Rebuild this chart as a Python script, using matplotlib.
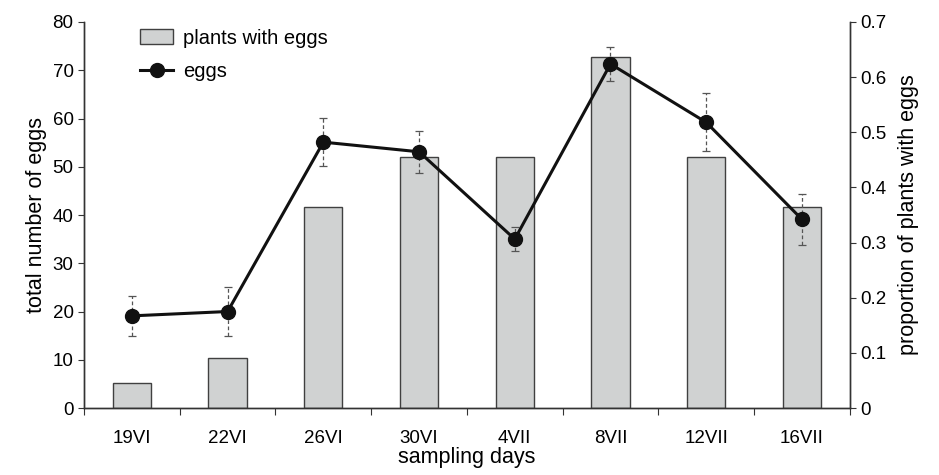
import matplotlib.pyplot as plt
import numpy as np

plt.rcParams['font.family'] = ['Liberation Sans', 'DejaVu Sans']

days = ['19VI', '22VI', '26VI', '30VI', '4VII', '8VII', '12VII', '16VII']
eggs = [19.1, 20.0, 55.1, 53.1, 35.0, 71.3, 59.2, 39.1]
eggs_err = [4.2, 5.0, 5.0, 4.3, 2.5, 3.5, 6.0, 5.3]
plants_prop = [0.045, 0.091, 0.364, 0.455, 0.455, 0.636, 0.455, 0.364]

x = np.arange(len(days))

fig = plt.figure(figsize=(9.39, 4.75), dpi=100)
ax = fig.add_axes([0.0895, 0.141, 0.8155, 0.8127])
ax2 = ax.twinx()

bars = ax2.bar(x, plants_prop, width=0.4, color='#d0d2d2', edgecolor='#404040',
               linewidth=1.0, label='plants with eggs')
ax2.set_ylim(0, 0.7)
ax2.set_yticks(np.arange(0, 0.71, 0.1))
ax2.set_yticklabels(['0'] + ['%.1f' % v for v in np.arange(0.1, 0.71, 0.1)])
ax2.set_ylabel('proportion of plants with eggs', fontsize=15.5, labelpad=8)

eb = ax.errorbar(x, eggs, yerr=eggs_err, fmt='none', ecolor='#555555',
                 elinewidth=0.9, capsize=3, capthick=0.9, zorder=3)
eb[2][0].set_linestyle((0, (3, 2)))
line, = ax.plot(x, eggs, color='#111111', lw=2.2, marker='o', markersize=10,
                label='eggs', zorder=4)

ax.set_zorder(ax2.get_zorder() + 1)
ax.patch.set_visible(False)

ax.set_ylim(0, 80)
ax.set_yticks(range(0, 81, 10))
ax.set_xlim(-0.5, len(days) - 0.5)
ax.set_xticks(np.arange(-0.5, len(days), 1.0))
ax.set_xticklabels([])
ax.set_xticks(x, minor=True)
ax.set_xticklabels(days, minor=True, fontsize=13.5)
ax.tick_params(axis='x', which='minor', length=0, pad=16)
ax.tick_params(axis='x', which='major', length=5, direction='out', color='#333333')
ax.tick_params(axis='y', labelsize=13.5, length=4, color='#333333')
ax2.tick_params(axis='y', labelsize=13.5, length=4, color='#333333')
ax.set_ylabel('total number of eggs', fontsize=15.5, labelpad=4)
ax.set_xlabel('sampling days', fontsize=15.5, labelpad=0)

for a in (ax, ax2):
    a.spines['top'].set_visible(False)
    for s in ('left', 'right', 'bottom'):
        a.spines[s].set_color('#333333')
        a.spines[s].set_linewidth(1.0)

ax.legend([bars, line], ['plants with eggs', 'eggs'], loc='upper left',
          bbox_to_anchor=(0.05, 1.03), frameon=False, fontsize=14.5,
          handlelength=1.6, handletextpad=0.5, labelspacing=0.7)

fig.savefig('out.png', dpi=100)
